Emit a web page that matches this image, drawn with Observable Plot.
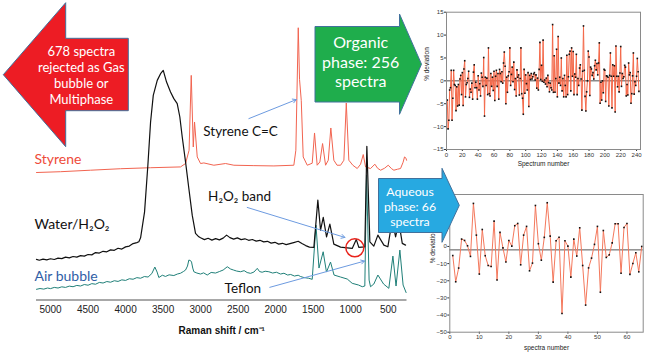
<!DOCTYPE html>
<html>
<head>
<meta charset="utf-8">
<script src="https://cdn.jsdelivr.net/npm/d3@7"></script>
<script src="https://cdn.jsdelivr.net/npm/@observablehq/plot@0.6"></script>
<style>
  html, body { margin: 0; padding: 0; background: #fff; }
  #wrap { position: relative; width: 650px; height: 354px; overflow: hidden; background: #fff; }
  #wrap > svg, #wrap > figure, #wrap > div { position: absolute; margin: 0; }
</style>
</head>
<body>
<div id="wrap"></div>
<script>
// ---------------- DATA ----------------
// Raman shift (cm-1) and relative intensity (offset, arbitrary units)
const styrene = [
  [5187,127.7],[4867,128.5],[4467,130],[4067,131.5],[3667,132.5],[3268,133.3],[3201,136.7],[3154,150],
  [3125,225],[3098,153.3],[3081,178.3],[3045,143.3],[3001,136.7],[2957,137.3],[2824,135],[2668,136.7],
  [2557,135],[2300,134.6],[2024,134.3],[1758,135],[1731,150],[1699,272.7],[1682,221],[1659,200],[1633,143.3],
  [1579,135],[1513,137],[1482,167.3],[1447,135],[1411,138.3],[1375,156.7],[1335,135],[1299,140],[1265,172.3],
  [1225,140],[1182,135],[1135,135],[1091,140],[1059,197.3],[1025,140],[972,135],[913,131.7],[869,136],
  [833,145.7],[802,133.3],[736,131.7],[678,136],[642,132],[602,130],[549,132],[500,135],[455,131.5],
  [425,130],[376,131],[336,131.7],[302,138],[283,143.3],[263,142],[256,140]
];
const water = [
  [5187,40.7],[5150,39.8],[5100,41.0],[5050,40.2],[5000,41.3],[4950,40.6],[4900,42.0],[4850,41.5],[4800,43.0],
  [4750,42.2],[4700,43.6],[4650,43.0],[4600,44.5],[4550,44.0],[4500,45.6],[4450,45.2],[4400,47.5],[4350,47.0],
  [4300,48.8],[4250,48.3],[4200,50.2],[4150,49.8],[4100,51.8],[4050,51.0],[4000,53.2],[3950,54.0],[3900,56.5],
  [3850,57.5],[3823,58.3],[3800,62.3],[3747,88.3],[3703,135],[3667,178.3],[3631,205],[3578,220],[3534,226.7],
  [3498,230],[3454,218.3],[3401,208.3],[3357,201.7],[3312,196.7],[3277,183.3],[3245,163.3],[3201,138.3],
  [3157,111.7],[3112,85],[3068,66.7],[3024,63.3],[3001,62.3],[2950,60.5],[2900,61.8],[2850,60.0],[2800,61.5],
  [2750,60.2],[2700,62.0],[2654,65.0],[2610,62.5],[2560,61.0],[2510,62.2],[2460,60.5],[2410,61.3],[2360,59.8],
  [2310,60.6],[2260,59.0],[2210,59.8],[2160,58.2],[2110,58.8],[2060,57.0],[2010,57.8],[1960,56.0],[1910,56.8],
  [1860,55.5],[1810,56.5],[1760,57.5],[1700,58.8],[1650,56.5],[1600,54.5],[1550,53.0],[1491,52.7],[1438,100],
  [1402,70],[1366,82.7],[1322,63.3],[1278,76],[1225,56],[1135,53],[1046,52.3],[980,51.7],[926,60.7],[892,52.7],
  [812,53.3],[785,154],[745,58.3],[692,54],[638,65],[558,55],[505,53.3],[447,80],[402,63.3],[358,78],[313,56.7],[269,55]
];
const airBubble = [
  [5187,10.7],[5140,11.5],[5090,10.9],[5040,12.0],[5000,11.4],[4950,12.6],[4900,12.0],[4850,13.2],[4800,12.6],
  [4750,13.9],[4700,13.3],[4650,14.6],[4600,14.0],[4550,15.5],[4500,14.8],[4450,16.4],[4400,15.8],[4350,17.6],
  [4300,17.0],[4250,18.5],[4200,17.8],[4150,19.3],[4100,18.6],[4050,20.2],[4000,19.6],[3950,21.3],[3900,20.8],
  [3850,22.4],[3800,21.8],[3750,23.5],[3700,23.0],[3650,26.5],[3610,33.0],[3580,28.0],[3557,22.5],[3510,24.8],
  [3468,23.6],[3420,25.2],[3357,24.5],[3310,26.0],[3268,26.8],[3230,28.5],[3201,30.0],[3175,34.0],[3157,40.0],
  [3135,39.5],[3121,38.0],[3105,32.0],[3090,28.3],[3050,27.0],[3001,26.0],[2960,27.2],[2912,25.0],[2860,27.6],
  [2801,27.0],[2750,28.5],[2700,30.0],[2645,33.3],[2600,31.0],[2561,30.0],[2520,29.0],[2468,28.3],[2420,29.4],
  [2380,27.5],[2335,26.7],[2290,28.0],[2245,31.7],[2215,28.5],[2180,27.8],[2140,28.8],[2091,28.3],[2040,27.0],
  [1990,27.8],[1935,26.0],[1890,26.8],[1840,25.0],[1800,25.6],[1750,24.0],[1700,24.8],[1668,23.5],[1620,22.4],
  [1560,21.8],[1513,20.7],[1463,75],[1423,32],[1367,48.3],[1323,28],[1269,38],[1222,25],[1135,23],[1046,21],
  [980,16.7],[896,15],[846,13.3],[812,14],[789,125],[755,20],[736,13.3],[692,16],[638,25],[562,16],[492,11.7],
  [438,44],[396,14],[345,50],[302,15],[262,7.5]
];
const ramanTicks = [5000,4500,4000,3500,3000,2500,2000,1500,1000,500];

// Organic phase: % deviation per spectrum (spectrum 1..243)
const organicDeviation = [
  -4.2,-10.5,-8.6,-2.0,-1.5,2.3,-8.6,-3.8,2.3,-0.8,
  -1.0,-6.5,-1.3,-5.5,-0.8,-5.3,0.4,1.2,-3.0,1.8,
  -5.4,2.6,4.4,-3.5,-0.8,-0.4,0.5,2.1,-3.6,-1.8,
  -2.5,-0.5,-4.0,1.9,3.5,-1.5,-0.3,-1.5,-4.0,1.1,
  -2.0,-0.6,-3.3,1.7,0.8,-1.2,5.1,-7.7,0.8,-1.0,
  0.6,-3.0,7.2,-2.8,-3.3,1.6,-1.2,0.8,-2.1,2.1,
  -4.3,1.0,2.3,-1.2,1.6,-4.0,2.5,1.6,-0.2,2.0,
  -0.5,3.9,6.3,3.2,-5.0,0.8,-2.5,1.1,2.0,7.2,
  -1.0,1.4,3.0,-0.2,4.1,-1.9,0.5,-3.3,2.4,0.8,
  1.3,-3.1,0.5,7.2,-2.8,-3.8,-7.3,2.5,-2.7,1.3,
  -0.6,-2.0,1.8,-5.6,1.2,0.3,1.6,0.4,0.9,1.5,
  1.8,0.2,1.3,-1.6,0.6,-2.0,2.5,8.4,0.3,3.4,
  -0.1,8.9,-0.3,0.2,-0.7,0.6,-1.3,1.2,-0.4,-2.4,
  -0.5,-1.5,-2.0,12.3,-2.5,5.5,-2.5,0.5,6.9,-3.5,
  9.7,-0.5,0.8,-1.0,5.0,-2.2,0.5,-3.5,1.2,-1.0,
  -3.5,5.6,-3.0,0.9,5.8,6.5,-2.2,7.2,1.0,6.4,
  -3.0,1.5,0.8,5.8,-3.0,0.5,-1.0,2.8,3.5,0.4,
  -6.4,2.1,12.0,2.3,-3.4,-6.6,-2.4,0.0,6.5,5.2,
  -3.2,3.0,2.6,1.2,1.8,0.4,3.3,4.5,2.4,3.8,
  1.3,3.9,8.3,-4.9,-0.3,-4.2,0.0,-2.6,2.5,2.3,
  -4.5,1.1,1.0,0.8,-5.5,1.2,6.1,1.0,-5.9,3.5,
  1.0,3.3,-6.8,7.6,1.0,-1.3,1.0,-2.4,1.7,7.5,
  -1.2,1.6,0.5,0.9,3.4,3.0,-3.3,-0.8,-3.1,3.9,
  1.3,1.8,-4.9,-2.8,1.1,6.1,-2.9,-0.2,-1.0,1.0,
  4.9,2.0,-2.3
];
const organicTicksX = [0,20,40,60,80,100,120,140,160,180,200,220,240];
const organicTicksY = [-15,-10,-5,0,5,10,15];

// Aqueous phase: % deviation per spectrum (1..65)
const aqueousDeviation = [
  -5.3,-20.6,-12.6,4.3,3.5,0.4,-5.8,25.1,6.6,-16.1,
  9.9,-5.4,-11.1,-11.7,14.8,-19.6,8.2,-0.8,-9.1,3.5,
  0.2,12.1,13.4,-10.7,6.6,11.7,-14.2,-9.7,23.9,1.6,
  -8.0,5.3,25.5,6.0,-20.8,3.3,5.4,-39.1,3.3,0.2,
  -17.9,4.3,-5.6,10.9,-11.1,-34.2,-12.5,-6.8,1.2,11.7,
  -26.7,9.3,-6.4,-4.9,2.1,13.2,13.2,-15.6,11.1,13.4,
  -16.3,-9.9,-3.7,-14.8,0
];
const aqueousTicksX = [0,10,20,30,40,50,60];
const aqueousTicksY = [-50,-40,-30,-20,-10,0];
const aqueousReference = [-2];

// Annotations
const seriesLabels = [
  {text: "Styrene", w: 5187, v: 140.7, color: "#ee4b3a"},
  {text: "Water/H\u2082O\u2082", w: 5187, v: 76, color: "#111"},
  {text: "Air bubble", w: 5187, v: 24, color: "#2f5ea6"}
];
const noteLabels = [
  {text: "Styrene C=C", w: 2468, v: 169},
  {text: "H\u2082O\u2082 band", w: 2481, v: 103.3},
  {text: "Teflon", w: 2437, v: 11.3}
];
const noteArrows = [
  {w1: 2357, v1: 181.7, w2: 1726, v2: 200.7},
  {w1: 2379, v1: 92.7, w2: 1078, v2: 62.7},
  {w1: 2078, v1: 12.7, w2: 816, v2: 39}
];
const h2o2Circle = [{w: 945, v: 52.3}];

// ---------------- CHARTS ----------------
const wrap = document.getElementById("wrap");
const X = d => d[0], Y = d => d[1];

const main = Plot.plot({
  width: 420, height: 354,
  marginLeft: 36, marginRight: 13.5, marginTop: 0, marginBottom: 54.5,
  style: {fontFamily: "Liberation Sans, Arial, sans-serif", fontSize: "10px", color: "#222", background: "transparent", overflow: "visible"},
  x: {domain: [5187, 250], ticks: ramanTicks, tickSize: 0, tickPadding: 6, label: null, tickFormat: d => String(d)},
  y: {domain: [0, 300], axis: null},
  marks: [
    Plot.ruleY([0], {stroke: "#a8a8a8", strokeWidth: 2}),
    Plot.line(airBubble, {x: X, y: Y, stroke: "#1f7f78", strokeWidth: 1}),
    Plot.line(styrene, {x: X, y: Y, stroke: "#f26450", strokeWidth: 1}),
    Plot.line(water, {x: X, y: Y, stroke: "#111", strokeWidth: 1.2}),
    Plot.dot(h2o2Circle, {x: "w", y: "v", r: 9, stroke: "#e8241c", strokeWidth: 1.5, fill: "none"}),
    Plot.arrow(noteArrows, {x1: "w1", y1: "v1", x2: "w2", y2: "v2", stroke: "#6d9be0", strokeWidth: 1, headLength: 6}),
    Plot.text(seriesLabels, {x: "w", y: "v", text: "text", fill: "color", textAnchor: "start", dx: -2, fontSize: 14, fontFamily: "Lato, Open Sans, sans-serif"}),
    Plot.text(noteLabels, {x: "w", y: "v", text: "text", fill: "#111", fontSize: 13.5, fontFamily: "Lato, Open Sans, sans-serif"}),
    Plot.text(["Raman shift / cm\u207B\u00B9"], {frameAnchor: "bottom", dy: 34, fontWeight: "bold", fontSize: 10, fill: "#111"})
  ]
});
main.style.left = "0px"; main.style.top = "0px";
wrap.appendChild(main);

const organic = Plot.plot({
  width: 230, height: 175,
  marginLeft: 26, marginRight: 10, marginTop: 11.7, marginBottom: 26,
  style: {fontFamily: "Liberation Sans, Arial, sans-serif", fontSize: "6px", color: "#333", background: "transparent", overflow: "visible"},
  x: {domain: [0, 245], ticks: organicTicksX, tickSize: 2, tickPadding: 1, label: null},
  y: {domain: [-15, 15], ticks: organicTicksY, tickSize: 2, tickPadding: 1, label: null},
  marks: [
    Plot.ruleY([0], {stroke: "#8a8a8a", strokeWidth: 1.5}),
    Plot.line(organicDeviation, {x: (d, i) => i + 1, y: d => d, stroke: "#f4694a", strokeWidth: 1}),
    Plot.dot(organicDeviation, {x: (d, i) => i + 1, y: d => d, symbol: "square", r: 0.9, fill: "#111"}),
    Plot.frame({stroke: "#8a8a8a"}),
    Plot.text(["Spectrum number"], {frameAnchor: "bottom", dy: 16, fontSize: 6.5, fill: "#222"}),
    Plot.text(["% deviation"], {frameAnchor: "left", dx: -19.5, rotate: -90, fontSize: 6.5, fill: "#222"})
  ]
});
organic.style.left = "420px"; organic.style.top = "0px";
wrap.appendChild(organic);

const aqueous = Plot.plot({
  width: 230, height: 174,
  marginLeft: 29.3, marginRight: 7.3, marginTop: 14, marginBottom: 22.3,
  style: {fontFamily: "Liberation Sans, Arial, sans-serif", fontSize: "6px", color: "#333", background: "transparent", overflow: "visible"},
  x: {domain: [0, 65.5], ticks: aqueousTicksX, tickSize: 2, tickPadding: 1, label: null},
  y: {domain: [-50, 30.3], ticks: aqueousTicksY, tickSize: 2, tickPadding: 1, label: null},
  marks: [
    Plot.ruleY(aqueousReference, {stroke: "#555", strokeWidth: 1}),
    Plot.line(aqueousDeviation, {x: (d, i) => i + 1, y: d => d, stroke: "#f4785c", strokeWidth: 1}),
    Plot.dot(aqueousDeviation, {x: (d, i) => i + 1, y: d => d, symbol: "square", r: 0.9, fill: "#111"}),
    Plot.frame({stroke: "#8a8a8a"}),
    Plot.text(["spectra number"], {frameAnchor: "bottom", dy: 17.3, fontSize: 6.5, fill: "#222"}),
    Plot.text(["% deviation"], {frameAnchor: "left", dx: -17, rotate: -90, fontSize: 6.5, fill: "#222"})
  ]
});
aqueous.style.left = "420px"; aqueous.style.top = "180px";
wrap.appendChild(aqueous);

// ---------------- BLOCK ARROWS (decoration) ----------------
const ns = "http://www.w3.org/2000/svg";
const over = document.createElementNS(ns, "svg");
over.setAttribute("width", 650); over.setAttribute("height", 354);
over.style.left = "0px"; over.style.top = "0px";
wrap.appendChild(over);
const blocks = [
  {pts: [[3.3,74.7],[65.7,2.7],[65.7,38.3],[128.3,38.3],[128.3,110.7],[65.7,110.7],[65.7,146.7]], fill: "#ed1c24",
   lines: ["678 spectra", "rejected as Gas", "bubble or", "Multiphase"], cx: 81.3, ys: [50.7, 66.7, 82.7, 99.3], fs: 13},
  {pts: [[315,26.5],[399.5,26.5],[399.5,14],[421.5,64.2],[399.5,114.3],[399.5,102],[315,102]], fill: "#1fad4c",
   lines: ["Organic", "phase: 256", "spectra"], cx: 360.7, ys: [41.7, 61, 80.3], fs: 16},
  {pts: [[378.5,178.5],[442,178.5],[442,168.3],[459.3,205.3],[442,242.3],[442,232.5],[378.5,232.5]], fill: "#27a9e1",
   lines: ["Aqueous", "phase: 66", "spectra"], cx: 410, ys: [191.5, 206.2, 221.5], fs: 12.3}
];
for (const b of blocks) {
  const p = document.createElementNS(ns, "polygon");
  p.setAttribute("points", b.pts.map(q => q.join(",")).join(" "));
  p.setAttribute("fill", b.fill);
  p.setAttribute("stroke", "#41719c");
  p.setAttribute("stroke-width", "1");
  over.appendChild(p);
  b.lines.forEach((t, i) => {
    const tx = document.createElementNS(ns, "text");
    tx.setAttribute("x", b.cx); tx.setAttribute("y", b.ys[i]);
    tx.setAttribute("text-anchor", "middle");
    tx.setAttribute("dominant-baseline", "central");
    tx.setAttribute("fill", "#fff");
    tx.setAttribute("font-family", "Lato, Open Sans, sans-serif");
    tx.setAttribute("font-size", b.fs);
    tx.textContent = t;
    over.appendChild(tx);
  });
}
</script>
</body>
</html>
